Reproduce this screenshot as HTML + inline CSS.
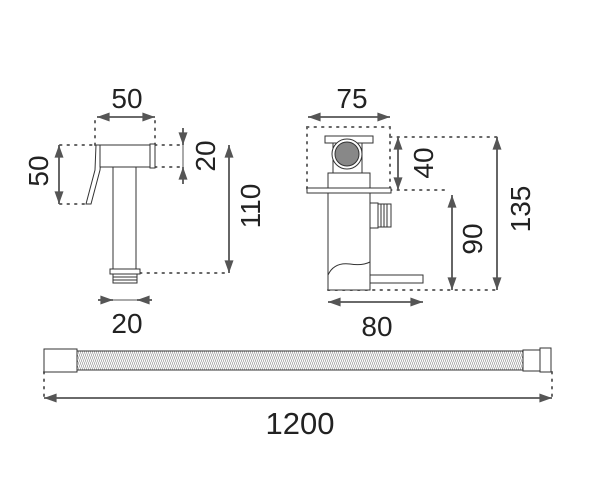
<!DOCTYPE html>
<html><head><meta charset="utf-8"><style>html,body{margin:0;padding:0;background:#fff}svg{display:block}</style></head>
<body>
<svg width="600" height="500" viewBox="0 0 600 500" xmlns="http://www.w3.org/2000/svg" font-family="Liberation Sans, sans-serif">
<defs>
<marker id="b" viewBox="0 0 14 10" refX="14" refY="5" markerWidth="14" markerHeight="9" orient="auto-start-reverse" markerUnits="userSpaceOnUse"><path d="M0,0 L14,5 L0,10 z" fill="#555"/></marker>
<pattern id="h" width="2" height="20" patternUnits="userSpaceOnUse" patternTransform="skewX(20)"><line x1="0" y1="0" x2="0" y2="20" stroke="#555" stroke-width="0.9"/></pattern>
</defs>
<g fill="none" stroke="#666" stroke-width="2" stroke-dasharray="1.5 6" stroke-linecap="round">
<line x1="95" y1="121" x2="95" y2="145"/><line x1="155" y1="121" x2="155" y2="145"/>
<line x1="60" y1="145" x2="95" y2="145"/><line x1="60" y1="204" x2="86" y2="204"/>
<line x1="155" y1="145" x2="183" y2="145"/><line x1="155" y1="167" x2="183" y2="167"/>
<line x1="140" y1="273" x2="229" y2="273"/>
<line x1="307" y1="127" x2="390" y2="127"/><line x1="307" y1="127" x2="307" y2="190"/><line x1="390" y1="127" x2="390" y2="190"/>
<line x1="390" y1="137" x2="497" y2="137"/><line x1="390" y1="190" x2="450" y2="190"/>
<line x1="328" y1="290" x2="497" y2="290"/>
<line x1="44" y1="372" x2="44" y2="398"/><line x1="552" y1="372" x2="552" y2="398"/>
</g>
<g fill="#555" stroke="#555" stroke-width="1.8">
<line x1="97" y1="117" x2="155" y2="117" marker-start="url(#b)" marker-end="url(#b)"/>
<line x1="59" y1="145" x2="59" y2="204" marker-start="url(#b)" marker-end="url(#b)"/>
<line x1="183" y1="128" x2="183" y2="145" marker-end="url(#b)"/>
<line x1="183" y1="184" x2="183" y2="167" marker-end="url(#b)"/>
<line x1="183" y1="145" x2="183" y2="167" stroke-width="1"/>
<line x1="229" y1="145" x2="229" y2="273" marker-start="url(#b)" marker-end="url(#b)"/>
<line x1="98" y1="300" x2="113" y2="300" marker-end="url(#b)"/>
<line x1="152" y1="300" x2="137" y2="300" marker-end="url(#b)"/>
<line x1="113" y1="300" x2="137" y2="300" stroke-width="1"/>
<line x1="308" y1="117" x2="390" y2="117" marker-start="url(#b)" marker-end="url(#b)"/>
<line x1="398" y1="137" x2="398" y2="190" marker-start="url(#b)" marker-end="url(#b)"/>
<line x1="452" y1="195" x2="452" y2="290" marker-start="url(#b)" marker-end="url(#b)"/>
<line x1="497" y1="137" x2="497" y2="290" marker-start="url(#b)" marker-end="url(#b)"/>
<line x1="328" y1="302" x2="423" y2="302" marker-start="url(#b)" marker-end="url(#b)"/>
<line x1="44" y1="398" x2="552" y2="398" marker-start="url(#b)" marker-end="url(#b)"/>
</g>
<g fill="#fff" stroke="#333" stroke-width="1">
<polygon points="96,145 102,145 100,170 91,204 86,204 95,170"/>
<rect x="100" y="145" width="50" height="22"/>
<rect x="150" y="144" width="5" height="24"/>
<rect x="113" y="167" width="23" height="103"/>
<rect x="110" y="269" width="30" height="5"/>
<rect x="113" y="274" width="24" height="9"/>
<line x1="113" y1="277" x2="137" y2="277"/><line x1="113" y1="280" x2="137" y2="280"/>
<rect x="333" y="143" width="29" height="30"/>
<rect x="325" y="136" width="48" height="7"/>
<circle cx="347" cy="154" r="15"/>
<circle cx="347" cy="154" r="12" fill="#888"/>
<rect x="328" y="173" width="42" height="15"/>
<rect x="307" y="188" width="84" height="5"/>
<rect x="328" y="193" width="42" height="97"/>
<rect x="370" y="203" width="8" height="25"/>
<rect x="378" y="204" width="13" height="23"/>
<line x1="381" y1="204" x2="381" y2="227"/><line x1="384" y1="204" x2="384" y2="227"/><line x1="387" y1="204" x2="387" y2="227"/>
<path d="M328,290 L328,275 Q334,262 350,264 Q362,266 370,262" />
<rect x="370" y="275" width="53" height="8"/>
<rect x="44" y="349" width="33" height="23"/>
<rect x="77" y="351" width="446" height="19" fill="url(#h)"/>
<rect x="523" y="350" width="17" height="21"/>
<rect x="540" y="348" width="11" height="24"/>
</g>
<g fill="#222" font-size="28" text-anchor="middle">
<text x="127" y="108">50</text>
<text x="127" y="333">20</text>
<text x="352" y="108">75</text>
<text x="377" y="336">80</text>
<text x="300" y="434" font-size="31">1200</text>
<text transform="translate(48,171) rotate(-90)">50</text>
<text transform="translate(215,156) rotate(-90)">20</text>
<text transform="translate(260,206) rotate(-90)">110</text>
<text transform="translate(433,163) rotate(-90)">40</text>
<text transform="translate(482,239) rotate(-90)">90</text>
<text transform="translate(530,209) rotate(-90)">135</text>
</g>
</svg>
</body></html>
